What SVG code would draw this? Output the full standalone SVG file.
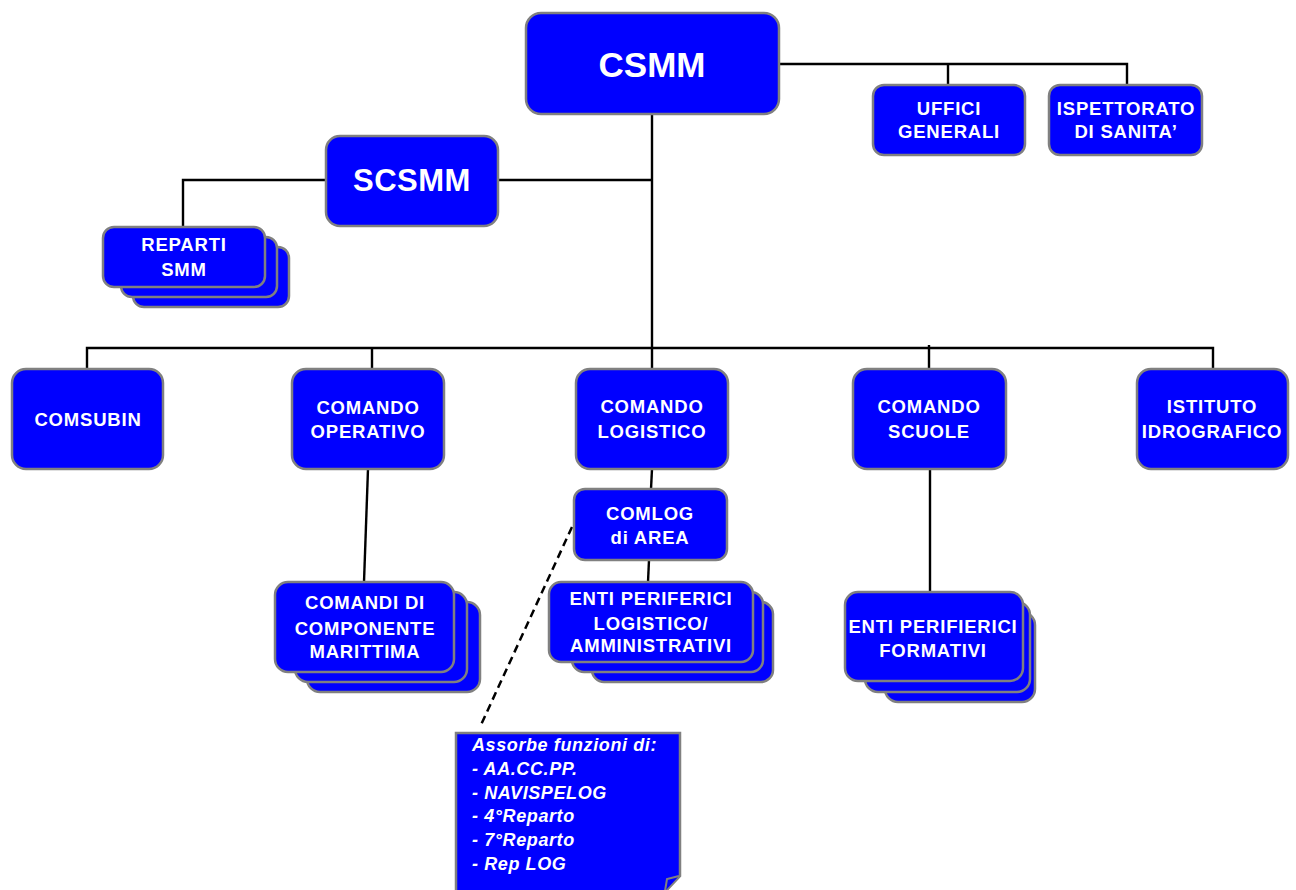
<svg xmlns="http://www.w3.org/2000/svg" width="1296" height="890" viewBox="0 0 1296 890">
<defs>
<style>
.box{fill:#0000FF;stroke:#808080;stroke-width:2.5}
.t{font-family:"Liberation Sans",Arial,sans-serif;font-weight:bold;fill:#FFFFFF;text-anchor:middle;font-size:18.5px;letter-spacing:0.8px}
.big{font-size:35px;letter-spacing:0}
.mid{font-size:31px;letter-spacing:0.5px}
.note{font-family:"Liberation Sans",Arial,sans-serif;font-weight:bold;font-style:italic;fill:#FFFFFF;font-size:18px;letter-spacing:0.6px}
.c{fill:none;stroke:#000000;stroke-width:2.4}
.d{fill:none;stroke:#000000;stroke-width:2.5;stroke-dasharray:8 5}
</style>
</defs>
<rect width="1296" height="890" fill="#FFFFFF"/>
<g id="connectors">
<path class="c" d="M779,64 H1127 V85"/>
<path class="c" d="M948,64 V85"/>
<path class="c" d="M652,114 V348"/>
<path class="c" d="M498,180 H652"/>
<path class="c" d="M326,180 H183 V227"/>
<path class="c" d="M87,369 V348 H1213 V369"/>
<path class="c" d="M372,348 V369"/>
<path class="c" d="M652,348 V369"/>
<path class="c" d="M929,345 V369"/>
<path class="c" d="M368,469 L364,582"/>
<path class="c" d="M652,469 L651,489"/>
<path class="c" d="M649,560 L648,582"/>
<path class="c" d="M930,469 V592"/>
<path class="d" d="M572,527 L480,727"/>
</g>
<g id="csmm">
<rect class="box" x="526" y="13" width="253" height="101" rx="15"/>
<text class="t big" x="652" y="77">CSMM</text>
</g>
<g id="uffici-generali">
<rect class="box" x="873" y="85" width="152" height="70" rx="11"/>
<text class="t" x="949" y="115">UFFICI</text>
<text class="t" x="949" y="138">GENERALI</text>
</g>
<g id="ispettorato-sanita">
<rect class="box" x="1049" y="85" width="153" height="70" rx="11"/>
<text class="t" x="1126" y="115">ISPETTORATO</text>
<text class="t" x="1126" y="138">DI SANITA’</text>
</g>
<g id="scsmm">
<rect class="box" x="326" y="136" width="172" height="90" rx="14"/>
<text class="t mid" x="412" y="191">SCSMM</text>
</g>
<g id="reparti-smm">
<rect class="box" x="133" y="247" width="156" height="60" rx="11"/>
<rect class="box" x="121" y="237" width="156" height="60" rx="11"/>
<rect class="box" x="103" y="227" width="162" height="60" rx="11"/>
<text class="t" x="184" y="251">REPARTI</text>
<text class="t" x="184" y="276">SMM</text>
</g>
<g id="comsubin">
<rect class="box" x="12" y="369" width="151" height="100" rx="14"/>
<text class="t" x="88" y="426">COMSUBIN</text>
</g>
<g id="comando-operativo">
<rect class="box" x="292" y="369" width="152" height="100" rx="14"/>
<text class="t" x="368" y="414">COMANDO</text>
<text class="t" x="368" y="438">OPERATIVO</text>
</g>
<g id="comando-logistico">
<rect class="box" x="576" y="369" width="152" height="100" rx="14"/>
<text class="t" x="652" y="413">COMANDO</text>
<text class="t" x="652" y="438">LOGISTICO</text>
</g>
<g id="comando-scuole">
<rect class="box" x="853" y="369" width="153" height="100" rx="14"/>
<text class="t" x="929" y="413">COMANDO</text>
<text class="t" x="929" y="438">SCUOLE</text>
</g>
<g id="istituto-idrografico">
<rect class="box" x="1137" y="369" width="151" height="100" rx="14"/>
<text class="t" x="1212" y="413">ISTITUTO</text>
<text class="t" x="1212" y="438">IDROGRAFICO</text>
</g>
<g id="comlog-area">
<rect class="box" x="574" y="489" width="153" height="71" rx="11"/>
<text class="t" x="650" y="520">COMLOG</text>
<text class="t" x="650" y="544">di AREA</text>
</g>
<g id="comandi-componente-marittima">
<rect class="box" x="307" y="602" width="173" height="90" rx="13"/>
<rect class="box" x="295" y="592" width="172" height="90" rx="13"/>
<rect class="box" x="275" y="582" width="179" height="90" rx="13"/>
<text class="t" x="365" y="609">COMANDI DI</text>
<text class="t" x="365" y="635">COMPONENTE</text>
<text class="t" x="365" y="658">MARITTIMA</text>
</g>
<g id="enti-periferici-logistico">
<rect class="box" x="592" y="602" width="181" height="80" rx="12"/>
<rect class="box" x="572" y="592" width="191" height="80" rx="12"/>
<rect class="box" x="549" y="582" width="204" height="80" rx="12"/>
<text class="t" x="651" y="605">ENTI PERIFERICI</text>
<text class="t" x="651" y="630">LOGISTICO/</text>
<text class="t" x="651" y="652">AMMINISTRATIVI</text>
</g>
<g id="enti-periferici-formativi">
<rect class="box" x="885" y="612" width="150" height="90" rx="13"/>
<rect class="box" x="865" y="602" width="165" height="90" rx="13"/>
<rect class="box" x="845" y="592" width="178" height="89" rx="13"/>
<text class="t" x="933" y="633">ENTI PERIFIERICI</text>
<text class="t" x="933" y="657">FORMATIVI</text>
</g>
<g id="note-assorbe">
<path d="M456,733 H680 V876 L665,892 H456 Z" fill="#0000FF" stroke="#808080" stroke-width="2.5"/>
<path d="M665,891 L667,879 L679,876" fill="#0000FF" stroke="#808080" stroke-width="2"/>
<text class="note" x="472" y="751">Assorbe funzioni di:</text>
<text class="note" x="472" y="775">- AA.CC.PP.</text>
<text class="note" x="472" y="799">- NAVISPELOG</text>
<text class="note" x="472" y="822">- 4°Reparto</text>
<text class="note" x="472" y="846">- 7°Reparto</text>
<text class="note" x="472" y="870">- Rep LOG</text>
</g>
</svg>
